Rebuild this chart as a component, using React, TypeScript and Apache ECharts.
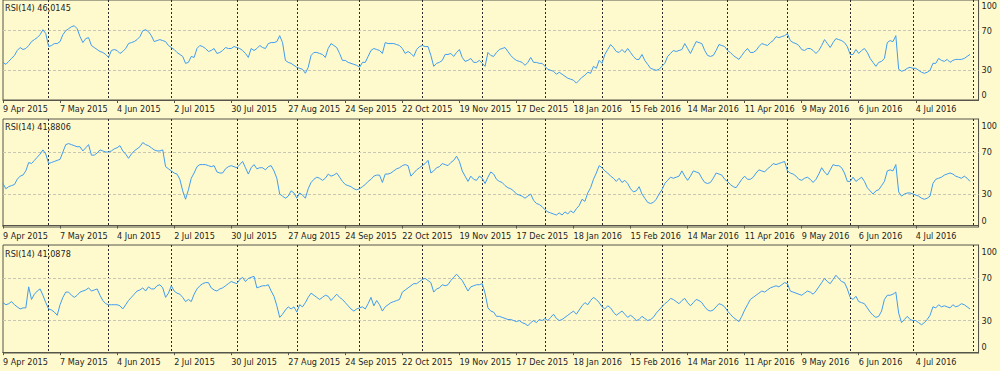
import React, { useEffect, useRef } from "react";
import * as echarts from "echarts";

const MONTHS = ["Jan", "Feb", "Mar", "Apr", "May", "Jun", "Jul", "Aug", "Sep", "Oct", "Nov", "Dec"];
const HOLIDAYS = ["2015-12-25", "2016-01-01"];
const CATEGORY_COUNT = 343;

const tickLabels = [
  "9 Apr 2015", "7 May 2015", "4 Jun 2015", "2 Jul 2015", "30 Jul 2015", "27 Aug 2015",
  "24 Sep 2015", "22 Oct 2015", "19 Nov 2015", "17 Dec 2015", "18 Jan 2016", "15 Feb 2016",
  "14 Mar 2016", "11 Apr 2016", "9 May 2016", "6 Jun 2016", "4 Jul 2016",
];
const yTickValues = [0, 30, 70, 100];
const guideLevels = [30, 70];
const panelTitles = ["RSI(14) 46,0145", "RSI(14) 41,8806", "RSI(14) 41,0878"];

const rsi1 = [
  38, 36, 39, 42, 45, 50, 53, 51, 52, 55,
  59, 61, 63, 66, 71, 67, 54, 55, 57, 57,
  59, 66, 70, 72, 74, 75, 72, 64, 58, 62,
  63, 55, 53, 51, 49, 48, 46, 43, 50, 51,
  50, 47, 49, 52, 57, 58, 59, 61, 64, 70,
  71, 69, 65, 59, 60, 61, 60, 59, 55, 53,
  51, 48, 46, 44, 37, 38, 44, 43, 52, 55,
  54, 52, 49, 50, 52, 47, 48, 50, 53, 52,
  52, 54, 53, 52, 50, 47, 43, 52, 50, 52,
  55, 53, 52, 57, 58, 58, 59, 65, 58, 40,
  38, 37, 35, 33, 32, 31, 27, 33, 45, 48,
  48, 47, 46, 43, 52, 57, 55, 53, 47, 40,
  40, 38, 37, 36, 35, 33, 38, 38, 44, 50,
  52, 51, 50, 47, 58, 57, 57, 57, 56, 55,
  52, 47, 49, 47, 44, 51, 54, 55, 54, 54,
  45, 34, 37, 38, 40, 46, 46, 47, 44, 48,
  51, 43, 39, 40, 42, 38, 38, 40, 37, 34,
  48, 45, 44, 48, 51, 52, 53, 49, 45, 42,
  40, 39, 38, 35, 38, 43, 38, 38, 37, 37,
  34, 31, 30, 29, 26, 28, 26, 24, 22, 21,
  20, 17, 20, 23, 25, 28, 27, 34, 32, 40,
  37, 46, 51, 56, 53, 49, 48, 51, 48, 52,
  48, 44, 41, 41, 46, 40, 36, 32, 31, 30,
  31, 34, 37, 44, 47, 50, 49, 50, 51, 57,
  52, 47, 53, 59, 58, 57, 50, 45, 44, 45,
  50, 56, 55, 54, 50, 48, 45, 43, 41, 45,
  49, 52, 48, 48, 50, 54, 57, 56, 55, 58,
  60, 64, 63, 64, 65, 67, 60, 58, 57, 55,
  51, 50, 52, 52, 50, 47, 50, 55, 61, 57,
  53, 58, 62, 61, 60, 58, 54, 46, 46, 51,
  47, 50, 52, 48, 42, 38, 34, 38, 39, 42,
  58, 60, 59, 65, 31, 29, 30, 32, 33, 32,
  32, 30, 28, 27, 28, 30, 37, 37, 42, 40,
  39, 41, 38, 40, 41, 41, 41, 42, 44, 46,
];

const rsi2 = [
  40, 35, 37, 38, 39, 44, 47, 48, 52, 60,
  59, 62, 65, 68, 72, 68, 59, 60, 61, 62,
  63, 70, 77, 78, 77, 76, 75, 75, 71, 74,
  77, 67, 67, 69, 72, 71, 70, 70, 71, 73,
  74, 76, 71, 68, 64, 68, 71, 73, 75, 79,
  77, 76, 74, 72, 71, 71, 72, 56, 54, 52,
  50, 49, 44, 33, 25, 34, 45, 50, 56, 58,
  58, 58, 57, 56, 57, 51, 50, 50, 54, 56,
  57, 56, 55, 58, 61, 55, 49, 55, 58, 54,
  55, 55, 53, 56, 57, 52, 45, 30, 28, 26,
  28, 33, 31, 26, 31, 29, 26, 35, 41, 44,
  46, 45, 43, 45, 49, 47, 48, 50, 46, 42,
  39, 38, 37, 35, 34, 35, 37, 39, 42, 44,
  47, 48, 48, 41, 49, 49, 50, 52, 54, 55,
  57, 58, 57, 47, 50, 53, 55, 57, 59, 62,
  50, 52, 55, 56, 59, 58, 57, 60, 62, 66,
  61, 52, 47, 42, 47, 44, 43, 47, 45, 40,
  46, 51, 49, 44, 42, 41, 38, 36, 35, 33,
  30, 29, 28, 26, 28, 30, 24, 21, 20, 18,
  15, 13, 12, 11, 10, 12, 10, 13, 11, 14,
  12, 16, 19, 25, 23, 31, 36, 44, 50, 57,
  55, 52, 50, 47, 45, 42, 45, 41, 43, 40,
  35, 32, 33, 37, 30, 26, 22, 21, 22, 25,
  30, 34, 40, 43, 46, 45, 46, 47, 52, 47,
  43, 47, 52, 51, 50, 45, 41, 40, 41, 45,
  50, 49, 48, 44, 42, 39, 37, 36, 40, 44,
  47, 44, 44, 46, 50, 53, 52, 51, 54, 56,
  59, 58, 59, 60, 61, 52, 50, 49, 47, 44,
  43, 45, 46, 44, 41, 44, 49, 55, 51, 48,
  53, 58, 57, 57, 55, 50, 42, 42, 46, 42,
  44, 46, 42, 36, 33, 30, 33, 34, 38, 42,
  52, 53, 52, 58, 32, 28, 30, 31, 31, 30,
  29, 28, 26, 25, 26, 28, 40, 44, 45, 46,
  48, 49, 50, 49, 47, 46, 45, 47, 45, 42,
];

const rsi3 = [
  47, 45, 46, 48, 45, 43, 41, 42, 42, 62,
  50, 55, 58, 60, 54, 47, 41, 40, 38, 35,
  45, 52, 57, 57, 54, 52, 54, 57, 58, 59,
  61, 58, 59, 60, 54, 49, 46, 45, 45, 45,
  45, 44, 41, 45, 49, 52, 55, 58, 59, 61,
  58, 62, 60, 60, 63, 64, 61, 52, 56, 63,
  58, 56, 55, 52, 48, 50, 48, 55, 60, 63,
  65, 66, 66, 61, 59, 58, 60, 61, 63, 65,
  67, 66, 65, 69, 71, 67, 70, 71, 72, 61,
  62, 63, 63, 64, 58, 53, 44, 33, 36, 40,
  43, 41, 43, 38, 45, 43, 47, 52, 56, 54,
  52, 50, 52, 54, 53, 49, 52, 55, 52, 50,
  47, 44, 41, 39, 41, 42, 43, 41, 46, 52,
  44, 49, 45, 39, 43, 45, 47, 48, 49, 50,
  57, 59, 61, 63, 65, 65, 67, 69, 70, 68,
  66, 57, 60, 61, 64, 63, 64, 68, 71, 74,
  71, 68, 63, 58, 62, 63, 64, 64, 65, 56,
  42, 39, 38, 34, 34, 33, 32, 31, 31, 30,
  29, 30, 28, 27, 25, 28, 30, 28, 31, 30,
  32, 30, 33, 36, 32, 30, 31, 33, 35, 37,
  39, 36, 40, 44, 47, 45, 49, 52, 50, 47,
  43, 41, 44, 42, 38, 35, 37, 39, 36, 33,
  35, 33, 30, 31, 34, 32, 30, 31, 33, 37,
  40, 43, 46, 48, 51, 50, 48, 46, 49, 51,
  47, 44, 47, 50, 49, 47, 43, 40, 39, 40,
  43, 46, 45, 43, 39, 36, 33, 31, 29, 34,
  40, 45, 50, 52, 54, 56, 58, 57, 59, 61,
  62, 63, 62, 64, 66, 65, 58, 57, 56, 55,
  54, 56, 58, 57, 55, 58, 62, 66, 70, 67,
  65, 69, 73, 70, 67, 66, 60, 52, 50, 53,
  48, 47, 46, 42, 38, 35, 33, 34, 39, 50,
  54, 54, 55, 57, 37, 28, 31, 34, 31, 30,
  30, 28, 26, 28, 31, 35, 43, 42, 45, 43,
  44, 43, 42, 45, 43, 44, 46, 45, 43, 41,
];

function pad(n: number) {
  return n < 10 ? "0" + n : "" + n;
}

function buildTradingDays(): { labels: string[]; months: number[] } {
  const labels: string[] = [];
  const months: number[] = [];
  const d = new Date(2015, 3, 9);
  while (labels.length < CATEGORY_COUNT) {
    const wd = d.getDay();
    const iso = `${d.getFullYear()}-${pad(d.getMonth() + 1)}-${pad(d.getDate())}`;
    if (wd !== 0 && wd !== 6 && HOLIDAYS.indexOf(iso) < 0) {
      labels.push(`${d.getDate()} ${MONTHS[d.getMonth()]} ${d.getFullYear()}`);
      months.push(d.getMonth());
    }
    d.setDate(d.getDate() + 1);
  }
  return { labels, months };
}

const FONT = "'DejaVu Sans Condensed', 'Liberation Sans', Arial, sans-serif";
const BG = "#FFFACD";
const FRAME = "#55554a";
const TEXT = "#1e1e1e";
const LINE = "#3f9cf2";

export default function App() {
  const ref = useRef<HTMLDivElement>(null);

  useEffect(() => {
    if (!ref.current) return;
    const chart = echarts.init(ref.current, undefined, { renderer: "svg" });
    const { labels: categories, months } = buildTradingDays();
    const isTick = (idx: number) => tickLabels.indexOf(categories[idx]) >= 0;
    const isMonthStart = (idx: number) => idx > 0 && months[idx] !== months[idx - 1];

    const panels = [
      { top: -1, height: 101, min: 0, max: 101, titleTop: 3, data: rsi1 },
      { top: 119, height: 108, min: -1.4, max: 101.4, titleTop: 122, data: rsi2 },
      { top: 245, height: 108, min: -0.8, max: 101.7, titleTop: 249, data: rsi3 },
    ];

    const option: any = {
      animation: false,
      backgroundColor: BG,
      grid: panels.map((p) => ({
        left: 2,
        right: 21,
        top: p.top,
        height: p.height,
        show: true,
        backgroundColor: "transparent",
        borderColor: FRAME,
        borderWidth: 1,
      })),
      xAxis: panels.map((p, gi) => ({
        type: "category",
        gridIndex: gi,
        data: categories,
        boundaryGap: false,
        axisLine: { show: true, lineStyle: { color: FRAME, width: 1 } },
        axisTick: {
          show: true,
          interval: (idx: number) => isTick(idx),
          length: 3,
          lineStyle: { color: FRAME },
        },
        axisLabel: {
          interval: (idx: number) => isTick(idx),
          align: "left",
          margin: 4,
          fontSize: 9,
          fontFamily: FONT,
          color: TEXT,
        },
        splitLine: {
          show: true,
          interval: (idx: number) => isMonthStart(idx),
          lineStyle: { color: "#2a2a2a", type: [2, 2], width: 1 },
        },
      })),
      yAxis: panels.map((p, gi) => ({
        type: "value",
        gridIndex: gi,
        position: "right",
        min: p.min,
        max: p.max,
        axisLine: { show: true, lineStyle: { color: FRAME, width: 1 } },
        axisTick: { show: false },
        splitLine: { show: false },
        axisLabel: {
          customValues: yTickValues,
          margin: 3,
          fontSize: 9,
          fontFamily: FONT,
          color: TEXT,
          formatter: (v: number) => (v === 100 ? "{t|100}" : v === 0 ? "{b|0}" : String(v)),
          rich: {
            t: { padding: [11, 0, 0, 0], fontSize: 9, fontFamily: FONT, color: TEXT },
            b: { padding: [0, 0, 10, 0], fontSize: 9, fontFamily: FONT, color: TEXT },
          },
        },
      })),
      series: panels.map((p, gi) => ({
        type: "line",
        xAxisIndex: gi,
        yAxisIndex: gi,
        data: p.data,
        showSymbol: false,
        symbol: "none",
        lineStyle: { color: LINE, width: 1 },
        z: 3,
        markLine: {
          silent: true,
          symbol: "none",
          label: { show: false },
          lineStyle: { color: "#c9c6b4", type: [3, 2], width: 1 },
          z: 2,
          data: guideLevels.map((lv) => ({ yAxis: lv })),
        },
      })),
      graphic: panels.map((p, gi) => ({
        type: "text",
        left: 5,
        top: p.titleTop,
        style: { text: panelTitles[gi], fontSize: 9, fontFamily: FONT, fill: TEXT },
      })),
    };

    chart.setOption(option);
    return () => chart.dispose();
  }, []);

  return (
    <div
      ref={ref}
      style={{ position: "fixed", left: 0, top: 0, width: 1000, height: 371, background: BG }}
    />
  );
}
